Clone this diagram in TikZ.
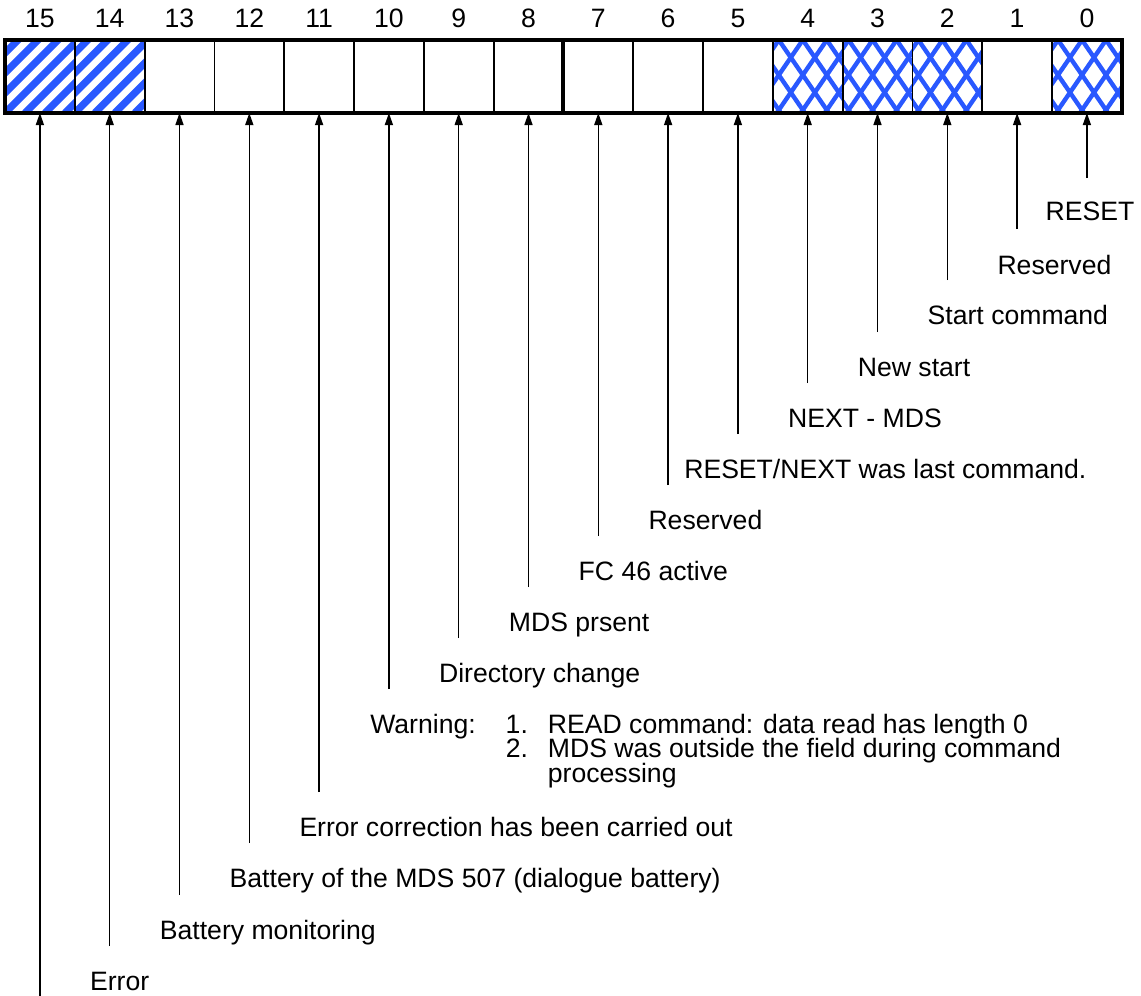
\documentclass[tikz,border=0pt]{standalone}
\usepackage{fontspec}
\setmainfont{Liberation Sans}
\usetikzlibrary{arrows.meta}
\definecolor{hatchblue}{RGB}{41,88,255}

\begin{document}
\begin{tikzpicture}[
  x=0.5pt, y=-0.5pt,
  cell/.style={draw, line width=0.9pt, minimum width=34.9pt, minimum height=36.5pt, inner sep=0pt, outer sep=0pt},
  plain/.style={},
  stripes/.style={path picture={
    \foreach \k in {-4,...,4}
      \draw[hatchblue, line width=3.6pt] ([xshift=\k*10pt]path picture bounding box.south west) -- ++(45pt,45pt);}},
  lattice/.style={path picture={
    \foreach \k in {-4,...,8} {
      \draw[hatchblue, line width=2.2pt] ([xshift=\k*12pt+3pt]path picture bounding box.north west) -- ++(30pt,-43.75pt);
      \draw[hatchblue, line width=2.2pt] ([xshift=\k*12pt+3pt]path picture bounding box.north west) -- ++(-30pt,-43.75pt);}}},
  bitnum/.style={inner sep=0pt, font=\fontsize{13.3}{16}\selectfont},
  lbl/.style={anchor=base west, inner sep=0pt, font=\fontsize{13.3}{11.5}\selectfont},
  pointer/.style={-{Triangle[length=6pt,width=4pt]}, line width=0.7pt}
]
\useasboundingbox (0,0) rectangle (1141,996);

% status word, bit 15 on the left
\foreach \b/\pat in {15/stripes,14/stripes,13/plain,12/plain,11/plain,10/plain,9/plain,8/plain,
                     7/plain,6/plain,5/plain,4/lattice,3/lattice,2/lattice,1/plain,0/lattice}
  \node[cell, \pat] (bit\b) at ({39.9+69.8*(15-\b)},76.5) {};
\foreach \b in {0,...,15}
  \node[bitnum] (num\b) at (bit\b.north |- 0,18) {\b};
\draw[line width=1.7pt] (bit15.north west) rectangle (bit0.south east);
\draw[line width=2pt] (bit8.north east) -- (bit8.south east);

% pointers up to the bits
\foreach \b/\yb in {0/178,1/229,2/280,3/332,4/383,5/434,6/485,7/536,8/587,9/638,
                    10/689,11/792,12/843,13/895,14/946,15/996} {
  \coordinate (foot\b) at (bit\b.south |- 0,\yb);
  \draw[pointer] (foot\b) -- (bit\b.south);
}

\node[lbl, anchor=base] (lbl0) at ([shift={(1.5pt,-21pt)}]foot0) {RESET};
\node[lbl] (lbl1) at ([shift={(-10pt,-22.5pt)}]foot1) {Reserved};
\node[lbl] (lbl2) at ([shift={(-10pt,-22pt)}]foot2) {Start command};
\node[lbl] (lbl3) at ([shift={(-10pt,-22pt)}]foot3) {New start};
\node[lbl] (lbl4) at ([shift={(-10pt,-22pt)}]foot4) {NEXT - MDS};
\node[lbl] (lbl5) at ([shift={(-27pt,-22pt)}]foot5) {RESET/NEXT was last command.};
\node[lbl] (lbl6) at ([shift={(-10pt,-22pt)}]foot6) {Reserved};
\node[lbl] (lbl7) at ([shift={(-10pt,-22pt)}]foot7) {FC 46 active};
\node[lbl] (lbl8) at ([shift={(-10pt,-22pt)}]foot8) {MDS prsent};
\node[lbl] (lbl9) at ([shift={(-10pt,-22pt)}]foot9) {Directory change};
\node[lbl] (lbl10) at ([shift={(-9.5pt,-22pt)}]foot10) {%
  \begin{tabular}[t]{@{}l@{\hspace{15pt}}l@{\hspace{10pt}}l@{}}
    Warning: & 1. & READ command: data read has length 0\\[-0.6pt]
             & 2. & MDS was outside the field during command\\[-0.6pt]
             &    & processing
  \end{tabular}};
\node[lbl] (lbl11) at ([shift={(-10pt,-22pt)}]foot11) {Error correction has been carried out};
\node[lbl] (lbl12) at ([shift={(-10pt,-22pt)}]foot12) {Battery of the MDS 507 (dialogue battery)};
\node[lbl] (lbl13) at ([shift={(-10pt,-22pt)}]foot13) {Battery monitoring};
\node[lbl] (lbl14) at ([shift={(-10pt,-22pt)}]foot14) {Error};
\end{tikzpicture}
\end{document}
